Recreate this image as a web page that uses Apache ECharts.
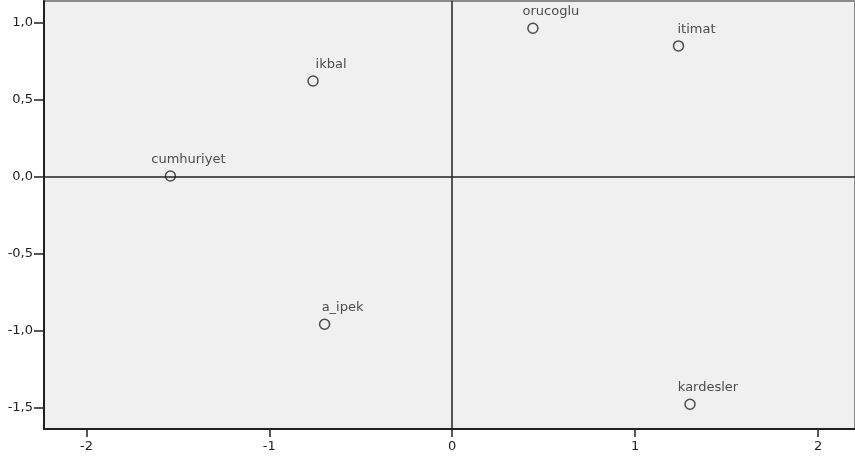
<!DOCTYPE html>
<html><head><meta charset="utf-8">
<script src="https://cdn.jsdelivr.net/npm/echarts@6/dist/echarts.min.js"></script>
<style>html,body{margin:0;padding:0;background:#fff}#c{width:855px;height:463px}</style>
</head><body><div id="c"></div>
<script>
const names = ['cumhuriyet','ikbal','orucoglu','itimat','a_ipek','kardesler'];
const xVals = [-1.541, -0.761, 0.441, 1.237, -0.698, 1.300];
const yVals = [0.003, 0.620, 0.963, 0.848, -0.960, -1.480];
const xTicks = [-2, -1, 0, 1, 2];
const yTicks = [-1.5, -1.0, -0.5, 0.0, 0.5, 1.0];

const FONT = 'DejaVu Sans';
const chart = echarts.init(document.getElementById('c'));
const data = names.map((n, i) => ({ name: n, value: [xVals[i], yVals[i]] }));
chart.setOption({
  animation: false,
  backgroundColor: '#ffffff',
  grid: { left: 44, right: 0, top: 1, bottom: 34, show: true, backgroundColor: '#f0f0f0', borderColor: '#8a8a8a', borderWidth: 2 },
  xAxis: {
    type: 'value', min: -2.232, max: 2.202,
    axisLine: { show: true, onZero: false, lineStyle: { color: '#222', width: 2 } },
    axisTick: { show: true, length: 8, customValues: xTicks, lineStyle: { color: '#222', width: 1.5 } },
    axisLabel: { customValues: xTicks, margin: 11, color: '#222', fontFamily: FONT, fontSize: 13,
      formatter: v => String(v) },
    splitLine: { show: false }
  },
  yAxis: {
    type: 'value', min: -1.641, max: 1.140,
    axisLine: { show: true, onZero: false, lineStyle: { color: '#222', width: 2 } },
    axisTick: { show: true, length: 10, customValues: yTicks, lineStyle: { color: '#222', width: 1.5 } },
    axisLabel: { customValues: yTicks, margin: 11, color: '#222', fontFamily: FONT, fontSize: 13,
      formatter: v => v.toFixed(1).replace('.', ',') },
    splitLine: { show: false }
  },
  series: [{
    type: 'scatter',
    data: data,
    symbol: 'circle',
    symbolSize: 10,
    itemStyle: { color: 'rgba(0,0,0,0)', borderColor: '#222', borderWidth: 1.5 },
    label: { show: true, position: 'top', offset: [18, 1], formatter: p => p.name,
      color: '#222', fontFamily: FONT, fontSize: 13 },
    markLine: {
      silent: true, symbol: 'none', label: { show: false },
      lineStyle: { color: '#222', width: 1.5, type: 'solid' },
      data: [{ xAxis: 0 }, { yAxis: 0 }]
    },
    z: 3
  }]
});
</script></body></html>
